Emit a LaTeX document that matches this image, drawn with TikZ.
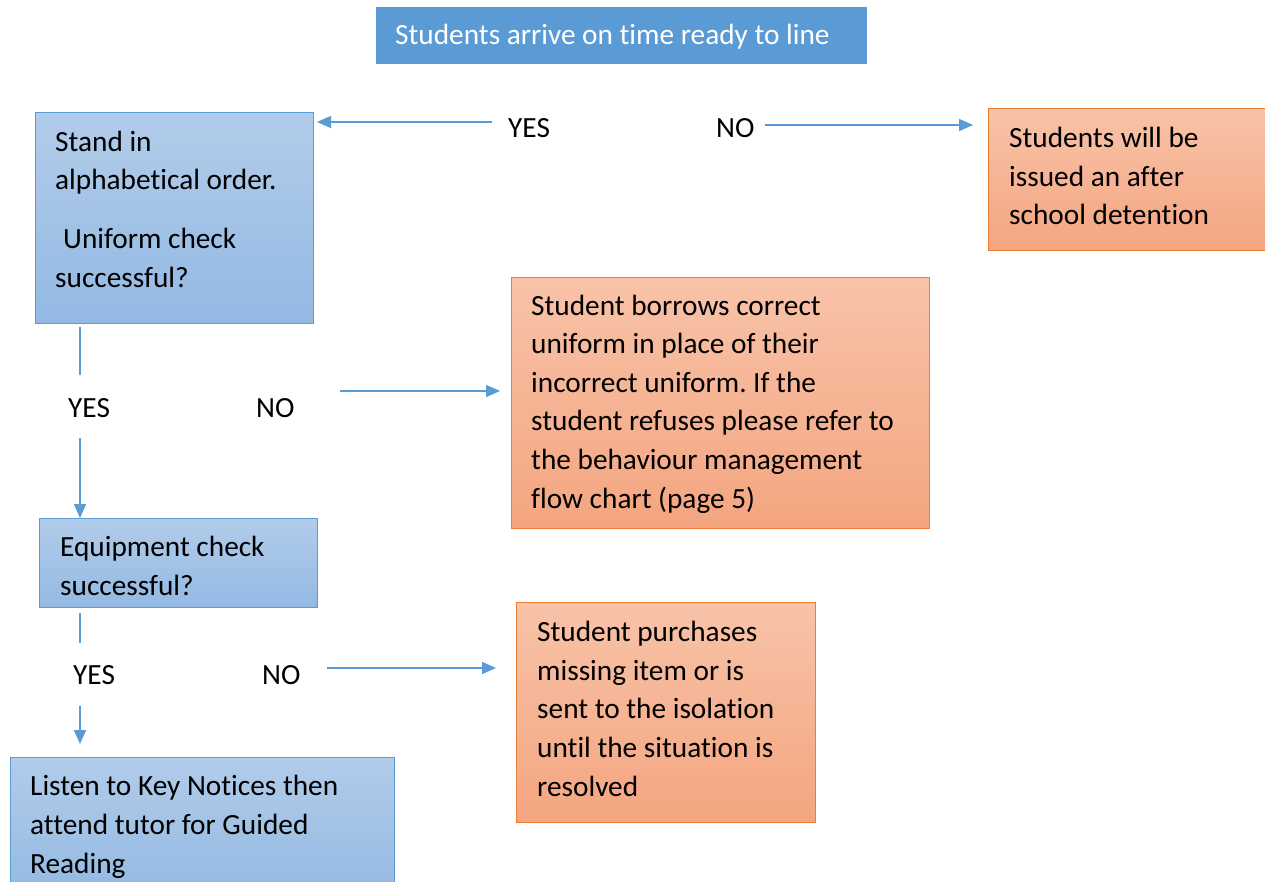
\documentclass[tikz,border=0pt]{standalone}
\usepackage{fontspec}
\setmainfont{Carlito}[Ligatures={NoCommon}]
\usetikzlibrary{arrows.meta}
\frenchspacing
\definecolor{lineblue}{RGB}{91,155,213}
\definecolor{bluetop}{RGB}{178,204,234}
\definecolor{bluebot}{RGB}{147,185,227}
\definecolor{orborder}{RGB}{237,125,49}
\definecolor{ortop}{RGB}{248,195,168}
\definecolor{orbot}{RGB}{244,165,128}
\tikzset{
  bluebox/.style={draw=lineblue, line width=1pt, top color=bluetop, bottom color=bluebot, inner sep=0pt, anchor=north west},
  orbox/.style={draw=orborder, line width=1pt, top color=ortop, bottom color=orbot, inner sep=0pt, anchor=north west},
  txt/.style={anchor=base west, inner sep=0pt, align=left, font=\fontsize{29.3}{38.6}\selectfont},
  lbl/.style={anchor=base west, inner sep=0pt, font=\fontsize{29.3}{38.6}\selectfont},
  conn/.style={draw=lineblue, line width=1.5pt},
  arr/.style={conn, -{Triangle[length=14pt,width=12pt]}}
}
\begin{document}
\begin{tikzpicture}[x=1pt,y=-1pt]
\useasboundingbox (0,0) rectangle (1265,882);
% boxes
\node[fill=lineblue, inner sep=0pt, anchor=north west, minimum width=491pt, minimum height=57pt] (start) at (376,7) {};
\node[bluebox, minimum width=278pt, minimum height=211pt] (stand) at (35,112) {};
\node[orbox, minimum width=277pt, minimum height=142pt] (det) at (988,108) {};
\node[orbox, minimum width=418pt, minimum height=251pt] (borrow) at (511,277) {};
\node[bluebox, minimum width=278pt, minimum height=89pt] (equip) at (39,518) {};
\node[orbox, minimum width=299pt, minimum height=220pt] (purch) at (516,602) {};
\node[bluebox, minimum width=384pt, minimum height=140pt] (listen) at (10,757) {};
% texts (anchor = baseline of last line)
\node[lbl, text=white] (t0) at (395,45) {Students arrive on time ready to line};
\node[txt] (t1) at (55,190) {Stand in\\alphabetical order.};
\node[txt] (t1b) at (63,249) {Uniform check};
\node[txt] (t1c) at (55,288) {successful?};
\node[txt] (t2) at (1009,225) {Students will be\\issued an after\\school detention};
\node[txt] (t3) at (531,508) {Student borrows correct\\uniform in place of their\\incorrect uniform. If the\\student refuses please refer to\\the behaviour management\\flow chart (page 5)};
\node[txt] (t4) at (60,595) {Equipment check\\successful?};
\node[txt] (t5) at (537,796) {Student purchases\\missing item or is\\sent to the isolation\\until the situation is\\resolved};
\node[txt] (t6) at (30,873) {Listen to Key Notices then\\attend tutor for Guided\\Reading};
% labels
\node[lbl] (yes1) at (508,138) {YES};
\node[lbl] (no1) at (716,138) {NO};
\node[lbl] (yes2) at (68,417) {YES};
\node[lbl] (no2) at (256,417) {NO};
\node[lbl] (yes3) at (73,684) {YES};
\node[lbl] (no3) at (262,684) {NO};
% connector coordinates
\coordinate (a1s) at (492,122);
\coordinate (a1e) at (317,122);
\coordinate (a2s) at (765,125);
\coordinate (a2e) at (973,125);
\coordinate (l1s) at (80,327);
\coordinate (l1e) at (80,375);
\coordinate (a3s) at (340,391);
\coordinate (a3e) at (500,391);
\coordinate (a4s) at (80,438);
\coordinate (l2s) at (80,613);
\coordinate (l2e) at (80,643);
\coordinate (a5s) at (327,668);
\coordinate (a5e) at (496,668);
\coordinate (a6s) at (80,706);
\coordinate (a6e) at (80,744);
% connectors
\draw[arr] (a1s) -- (a1e);
\draw[arr] (a2s) -- (a2e);
\draw[conn] (l1s) -- (l1e);
\draw[arr] (a3s) -- (a3e);
\draw[arr] (a4s) -- (a4s |- equip.north);
\draw[conn] (l2s) -- (l2e);
\draw[arr] (a5s) -- (a5e);
\draw[arr] (a6s) -- (a6e);
\end{tikzpicture}
\end{document}
